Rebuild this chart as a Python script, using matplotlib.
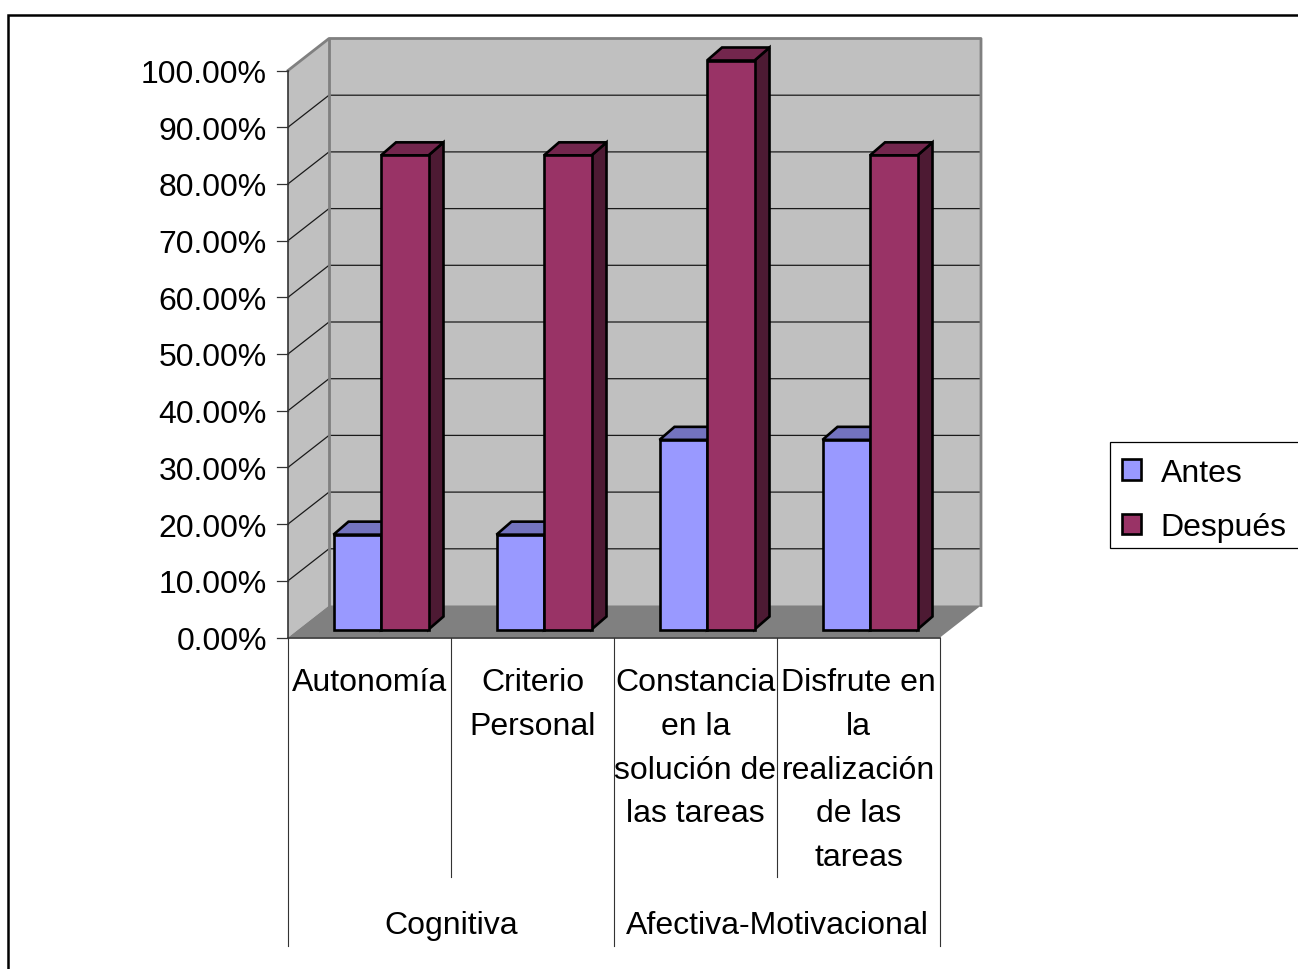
# -*- coding: utf-8 -*-
import matplotlib
matplotlib.use('Agg')
import matplotlib.pyplot as plt
from matplotlib.patches import Polygon, Patch, Rectangle

plt.rcParams['font.family'] = ['Liberation Sans', 'DejaVu Sans']

# data
categorias = ["Autonomía", "Criterio\nPersonal", "Constancia\nen la\nsolución de\nlas tareas",
              "Disfrute en\nla\nrealización\nde las\ntareas"]
grupos = ["Cognitiva", "Afectiva-Motivacional"]
antes = [16.67, 16.67, 33.33, 33.33]
despues = [83.33, 83.33, 100.0, 83.33]
ticks = [0, 10, 20, 30, 40, 50, 60, 70, 80, 90, 100]

# 3d box geometry, in pixels
x0, y0 = 288, 638
cat_w = 163
y_scale = 5.67
dx, dy = 41, -32
bar_dx, bar_dy = 15, -13
bar_y0 = 630
bar_scale = 5.69
bar_off = 45.5
bar_w = 47.5
n = len(categorias)
x1 = x0 + n * cat_w
FS = 23


def val_y(v):
    return y0 - v * y_scale


def darken(c, f):
    r, g, b = matplotlib.colors.to_rgb(c)
    return (r * f, g * f, b * f)


def bar3d(ax, left, v, color):
    top = bar_y0 - v * bar_scale
    right = left + bar_w
    side = [(right, bar_y0), (right + bar_dx, bar_y0 + bar_dy), (right + bar_dx, top + bar_dy), (right, top)]
    cap = [(left, top), (left + bar_dx, top + bar_dy), (right + bar_dx, top + bar_dy), (right, top)]
    front = [(left, bar_y0), (left, top), (right, top), (right, bar_y0)]
    ax.add_patch(Polygon(side, closed=True, fc=darken(color, 0.5), ec='black', lw=1.9, zorder=4))
    ax.add_patch(Polygon(cap, closed=True, fc=darken(color, 0.75), ec='black', lw=1.9, zorder=4))
    ax.add_patch(Polygon(front, closed=True, fc=color, ec='black', lw=1.9, zorder=4))


fig = plt.figure(figsize=(12.98, 9.70), dpi=100)
ax = fig.add_axes([0, 0, 1, 1])
ax.set_xlim(0, 1298)
ax.set_ylim(969.5, -0.5)
ax.axis('off')

# outer frame
ax.plot([8, 8, 1298], [970, 15, 15], color='black', lw=1.8, solid_joinstyle='miter', clip_on=False)

# walls and floor
top_y = val_y(100)
ax.add_patch(Polygon([(x0, y0), (x0, top_y), (x0 + dx, top_y + dy), (x0 + dx, y0 + dy)], closed=True, fc='#C0C0C0', ec='none'))
ax.add_patch(Polygon([(x0 + dx, y0 + dy), (x0 + dx, top_y + dy), (x1 + dx, top_y + dy), (x1 + dx, y0 + dy)], closed=True, fc='#C0C0C0', ec='none'))
ax.add_patch(Polygon([(x0, y0), (x0 + dx, y0 + dy), (x1 + dx, y0 + dy), (x1, y0)], closed=True, fc='#808080', ec='none'))

# gridlines
for t in ticks[1:-1]:
    y = val_y(t)
    ax.plot([x0, x0 + dx, x1 + dx], [y, y + dy, y + dy], color='#1a1a1a', lw=0.9, zorder=2)
ax.plot([x0, x0 + dx, x1 + dx, x1 + dx], [top_y, top_y + dy, top_y + dy, y0 + dy], color='#808080', lw=2, zorder=2)
ax.plot([x0 + dx, x0 + dx], [top_y + dy, y0 + dy], color='#808080', lw=2, zorder=2)

# value axis
ax.plot([x0, x0], [top_y, y0], color='#333333', lw=1.2, zorder=3)
for t in ticks:
    y = val_y(t)
    ax.plot([x0 - 11, x0], [y, y], color='#333333', lw=0.9, zorder=3)
    ax.text(267, y + 3.5, "%.2f%%" % t, ha='right', va='center', fontsize=FS, color='black')

# bars
for i in range(n):
    left = x0 + i * cat_w + bar_off
    bar3d(ax, left, antes[i], '#9999FF')
    bar3d(ax, left + bar_w, despues[i], '#993366')

# category axis
ax.plot([x0, x1], [y0, y0], color='#333333', lw=1.2, zorder=3)
for i in range(n + 1):
    y_end = 946 if i % 2 == 0 else 877
    ax.plot([x0 + i * cat_w] * 2, [y0, y_end], color='#333333', lw=0.8)
for i, c in enumerate(categorias):
    ax.text(x0 + (i + 0.5) * cat_w, 668, c, ha='center', va='top', fontsize=FS, linespacing=1.59, color='black')
for i, g in enumerate(grupos):
    ax.text(x0 + (2 * i + 1) * cat_w, 926, g, ha='center', va='center', fontsize=FS, color='black')

# legend box runs off the right edge of the picture
ax.add_patch(Rectangle((1110, 442), 195, 106, fc='white', ec='black', lw=0.9, zorder=5))
handles = [Patch(fc='#9999FF', ec='black', lw=1.9, label='Antes'),
           Patch(fc='#993366', ec='black', lw=1.9, label='Después')]
leg = ax.legend(handles=handles, loc='upper left', bbox_to_anchor=(1111, 447),
                bbox_transform=ax.transData, borderaxespad=0, fontsize=FS,
                handlelength=0.6, handleheight=0.6, handletextpad=0.6,
                labelspacing=0.76, borderpad=0.35, frameon=False)
leg.set_zorder(6)

fig.savefig('out.png', dpi=100)
